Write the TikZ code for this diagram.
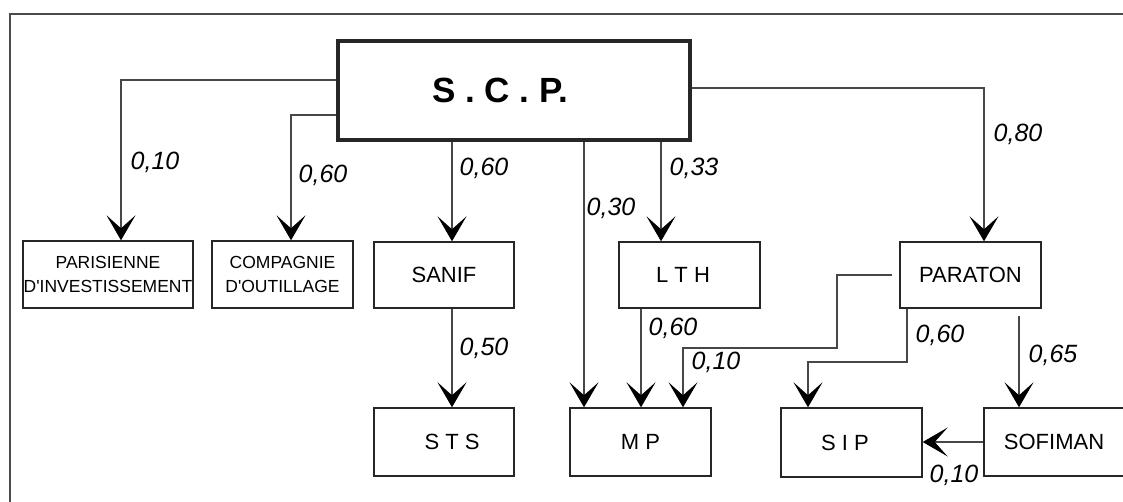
\documentclass[tikz,border=0pt]{standalone}
\usepackage{fontspec}
\setmainfont{Liberation Sans}
\usetikzlibrary{arrows.meta,calc}
\begin{document}
\begin{tikzpicture}[x=1pt,y=-1pt,
  box/.style={draw=black!85, line width=1.4pt, inner sep=0pt, align=center,
    font=\fontsize{22}{24}\selectfont},
  smallbox/.style={box, font=\fontsize{17.5}{24}\selectfont},
  conn/.style={draw=black!72, line width=1.2pt,
    -{Stealth[length=25pt,width=29pt,inset=13pt,fill=black,color=black]}},
  lbl/.style={font=\fontsize{25}{27}\selectfont\itshape, inner sep=0pt}
]
\path[use as bounding box, clip] (0,0) rectangle (1123,502);
\fill[white] (0,0) rectangle (1123,502);
\draw[draw=black!70, line width=2.2pt] (10,14) rectangle (1140,520);

% boxes
\node[box, line width=3.5pt, minimum width=352pt, minimum height=99pt,
  font=\fontsize{35}{40}\selectfont\bfseries] (scp) at (514,90.5) {S . C . P.\hspace*{28pt}};
\node[smallbox, minimum width=170pt, minimum height=67pt] (paris) at (108,274.5) {PARISIENNE\\D\textquotesingle INVESTISSEMENT};
\node[smallbox, minimum width=141pt, minimum height=67pt] (comp) at (282.5,274.5) {COMPAGNIE\\D\textquotesingle OUTILLAGE};
\node[box, minimum width=140pt, minimum height=66pt] (sanif) at (444,275) {SANIF};
\node[box, minimum width=141pt, minimum height=66pt] (lth) at (689.5,275) {L T H\hspace*{13pt}};
\node[box, minimum width=141pt, minimum height=66pt] (paraton) at (970.5,275) {PARATON};
\node[box, minimum width=140pt, minimum height=68pt] (sts) at (444,442) {\hspace*{16pt}S T S};
\node[box, minimum width=141pt, minimum height=68pt] (mp) at (640.5,442) {M P};
\node[box, minimum width=141pt, minimum height=69pt] (sip) at (851.5,442.5) {S I P\hspace*{13pt}};
\node[box, minimum width=150pt, minimum height=68pt] (sofiman) at (1059,442) {SOFIMAN\hspace*{10pt}};

% connectors
\draw[conn] (scp.west |- 0,80) -| (paris.north -| 121,0);
\draw[conn] (scp.west |- 0,115) -| (comp.north -| 291,0);
\draw[conn] (scp.south -| 452,0) -- (sanif.north -| 452,0);
\draw[conn] (scp.south -| 584,0) -- (mp.north -| 584,0);
\draw[conn] (scp.south -| 661,0) -- (lth.north -| 661,0);
\draw[conn] (scp.east |- 0,88) -| (paraton.north -| 984,0);
\draw[conn] (sanif.south -| 452,0) -- (sts.north -| 452,0);
\draw[conn] (lth.south -| 641,0) -- (mp.north -| 641,0);
\draw[conn] ($(paraton.west)+(-7,0)$) -| (837,348) -| (mp.north -| 683,0);
\draw[conn] (paraton.south -| 907,0) -- (907,362) -| (sip.north -| 808,0);
\draw[conn] ($(paraton.south -| 1019,0)+(0,7)$) -- (sofiman.north -| 1019,0);
\draw[conn] (sofiman.west |- 0,442) -- (sip.east |- 0,442);

% labels
\node[lbl] (l1) at (155,162) {0,10};
\node[lbl] (l2) at (323,175) {0,60};
\node[lbl] (l3) at (484,168) {0,60};
\node[lbl] (l4) at (611,208) {0,30};
\node[lbl] (l5) at (694,168) {0,33};
\node[lbl] (l6) at (1018,134) {0,80};
\node[lbl] (l7) at (484,348) {0,50};
\node[lbl] (l8) at (673,328) {0,60};
\node[lbl] (l9) at (716,362) {0,10};
\node[lbl] (l10) at (940,335) {0,60};
\node[lbl] (l11) at (1053,355) {0,65};
\node[lbl] (l12) at (954,475) {0,10};
\end{tikzpicture}
\end{document}
